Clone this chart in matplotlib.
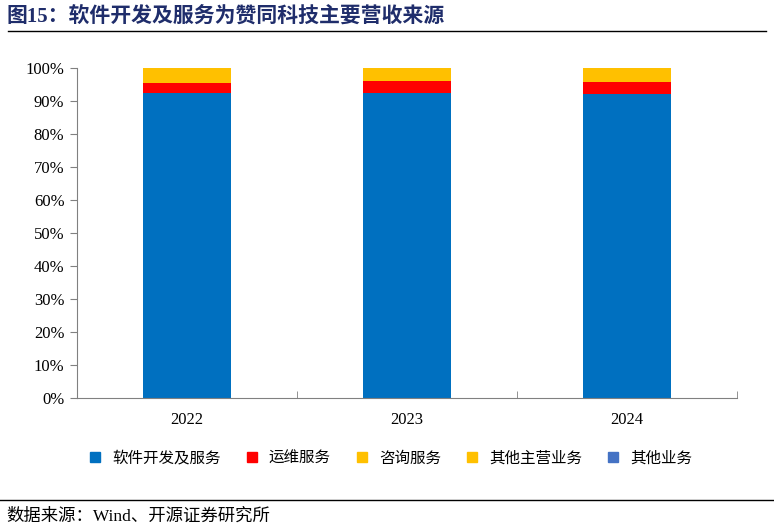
import matplotlib
matplotlib.use("Agg")
import matplotlib.pyplot as plt
from matplotlib.ticker import PercentFormatter
from matplotlib.lines import Line2D

plt.rcParams['font.family'] = ['Liberation Serif', 'Noto Sans CJK SC', 'DejaVu Sans']

# data (share of revenue, %)
years = ["2022", "2023", "2024"]
series_names = ["软件开发及服务", "运维服务", "咨询服务", "其他主营业务", "其他业务"]
software = [92.4, 92.3, 92.0]
ops = [3.0, 3.9, 3.9]
consulting = [4.6, 3.8, 4.1]
other_main = [0.0, 0.0, 0.0]
other = [0.0, 0.0, 0.0]
colors = ["#0070C0", "#FF0000", "#FFC000", "#FFC000", "#4472C4"]

fig = plt.figure(figsize=(7.74, 5.30), dpi=100)
ax = fig.add_axes([77 / 774, 1 - 398 / 530, 660 / 774, 330 / 530])

x = list(range(len(years)))
bottom = [0.0] * len(years)
for vals, name, c in zip([software, ops, consulting, other_main, other], series_names, colors):
    ax.bar(x, vals, width=0.4, bottom=bottom, color=c, label=name)
    bottom = [b + v for b, v in zip(bottom, vals)]

ax.set_xlim(-0.5, 2.5)
ax.set_ylim(0, 100)
ax.set_yticks(range(0, 101, 10))
ax.yaxis.set_major_formatter(PercentFormatter(decimals=0))
ax.set_xticks(x)
ax.set_xticklabels(years)
ax.set_xticks([-0.5, 0.5, 1.5, 2.5], minor=True)
ax.tick_params(axis='x', which='major', length=0, pad=10, labelsize=12)
ax.tick_params(axis='x', which='minor', direction='in', length=5, color='#808080')
ax.tick_params(axis='y', direction='out', length=5, color='#808080', labelsize=12, pad=4)
for s in ['top', 'right']:
    ax.spines[s].set_visible(False)
for s in ['left', 'bottom']:
    ax.spines[s].set_color('#808080')

handles = [Line2D([0], [0], marker='s', linestyle='none', markersize=7,
                  markerfacecolor=c, markeredgecolor=c) for c in colors]
fig.legend(handles, series_names, loc='center', bbox_to_anchor=(386 / 774, 1 - 458 / 530),
           ncol=5, frameon=False, handletextpad=0.1, columnspacing=1.0,
           prop={'family': 'Noto Sans CJK SC', 'size': 11.2})

# title and source
fig.text(6 / 774, 1 - 16 / 530, "图15：软件开发及服务为赞同科技主要营收来源",
         fontsize=15, fontweight='bold', color='#1F2D6B', va='center', ha='left',
         family=['Liberation Serif', 'Noto Sans CJK SC'])
fig.add_artist(Line2D([8 / 774, 766 / 774], [1 - 31 / 530, 1 - 31 / 530], color='black', lw=1))
fig.add_artist(Line2D([0, 1], [1 - 500 / 530, 1 - 500 / 530], color='black', lw=1))
fig.text(6 / 774, 1 - 517 / 530, "数据来源：Wind、开源证券研究所", fontsize=12.5,
         va='center', ha='left', family=['Liberation Serif', 'Noto Sans CJK SC'])

fig.savefig("out.png", dpi=100)
